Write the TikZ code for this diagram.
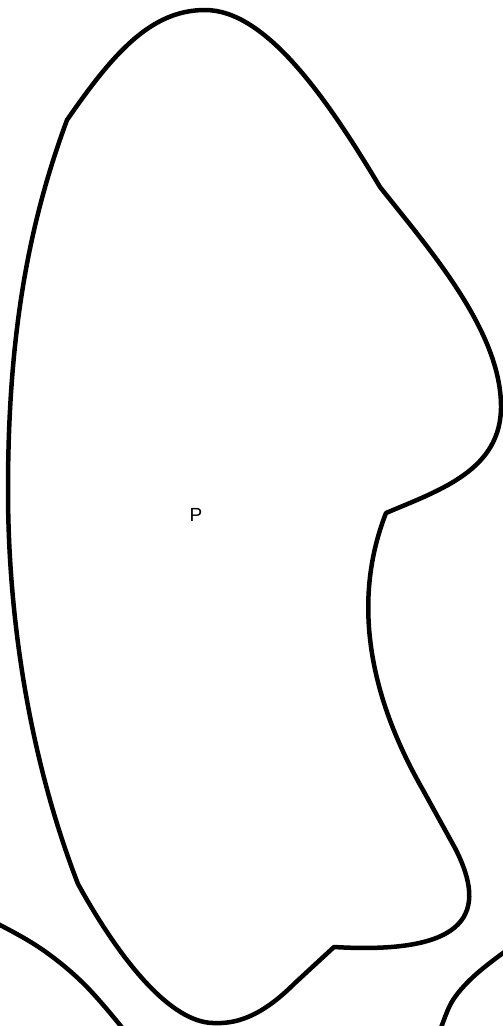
\documentclass[tikz,border=0pt]{standalone}
\usepackage{fontspec}
\setmainfont{Liberation Sans}
\begin{document}
\begin{tikzpicture}[x=1pt,y=-1pt,
  outline/.style={draw=black,line width=4.5pt,line join=round,line cap=round},
  lbl/.style={font=\fontsize{19}{22}\selectfont,inner sep=0pt}]
\useasboundingbox (0,0) rectangle (503,1026);
\clip (0,0) rectangle (503,1026);
% main blob
\coordinate (A) at (67,120);
\coordinate (T) at (205,10);
\coordinate (B) at (380,187);
\coordinate (R) at (501,405);
\coordinate (C) at (386,513);
\coordinate (M) at (423,790);
\coordinate (N) at (455,848);
\coordinate (D) at (334,947);
\coordinate (F) at (295,983);
\coordinate (G) at (213,1023);
\coordinate (E) at (78,884);
\coordinate (L) at (8,490);
\draw[outline]
  (A) .. controls (112,55) and (150,10) .. (T)
      .. controls (265,10) and (325,95) .. (B)
      .. controls (430,250) and (500,330) .. (R)
      .. controls (502,470) and (440,490) .. (C)
      .. controls (348,610) and (376,708) .. (M)
      -- (N)
      .. controls (488,912) and (470,955) .. (D)
      -- (F)
      .. controls (260,1018) and (235,1024) .. (G)
      .. controls (170,1022) and (120,960) .. (E)
      .. controls (30,760) and (8,620) .. (L)
      .. controls (8,330) and (30,220) .. (A)
  -- cycle;
% partial neighbours at the bottom
\draw[outline] plot[smooth,tension=0.6] coordinates {(-30,912) (0,925) (43,950) (83,983) (120,1025) (130,1040)};
\draw[outline] plot[smooth,tension=0.6] coordinates {(530,935) (503,953) (473,977) (453,1000) (442,1025) (437,1040)};
\node[lbl] (P) at (196,515) {P};
\end{tikzpicture}
\end{document}
